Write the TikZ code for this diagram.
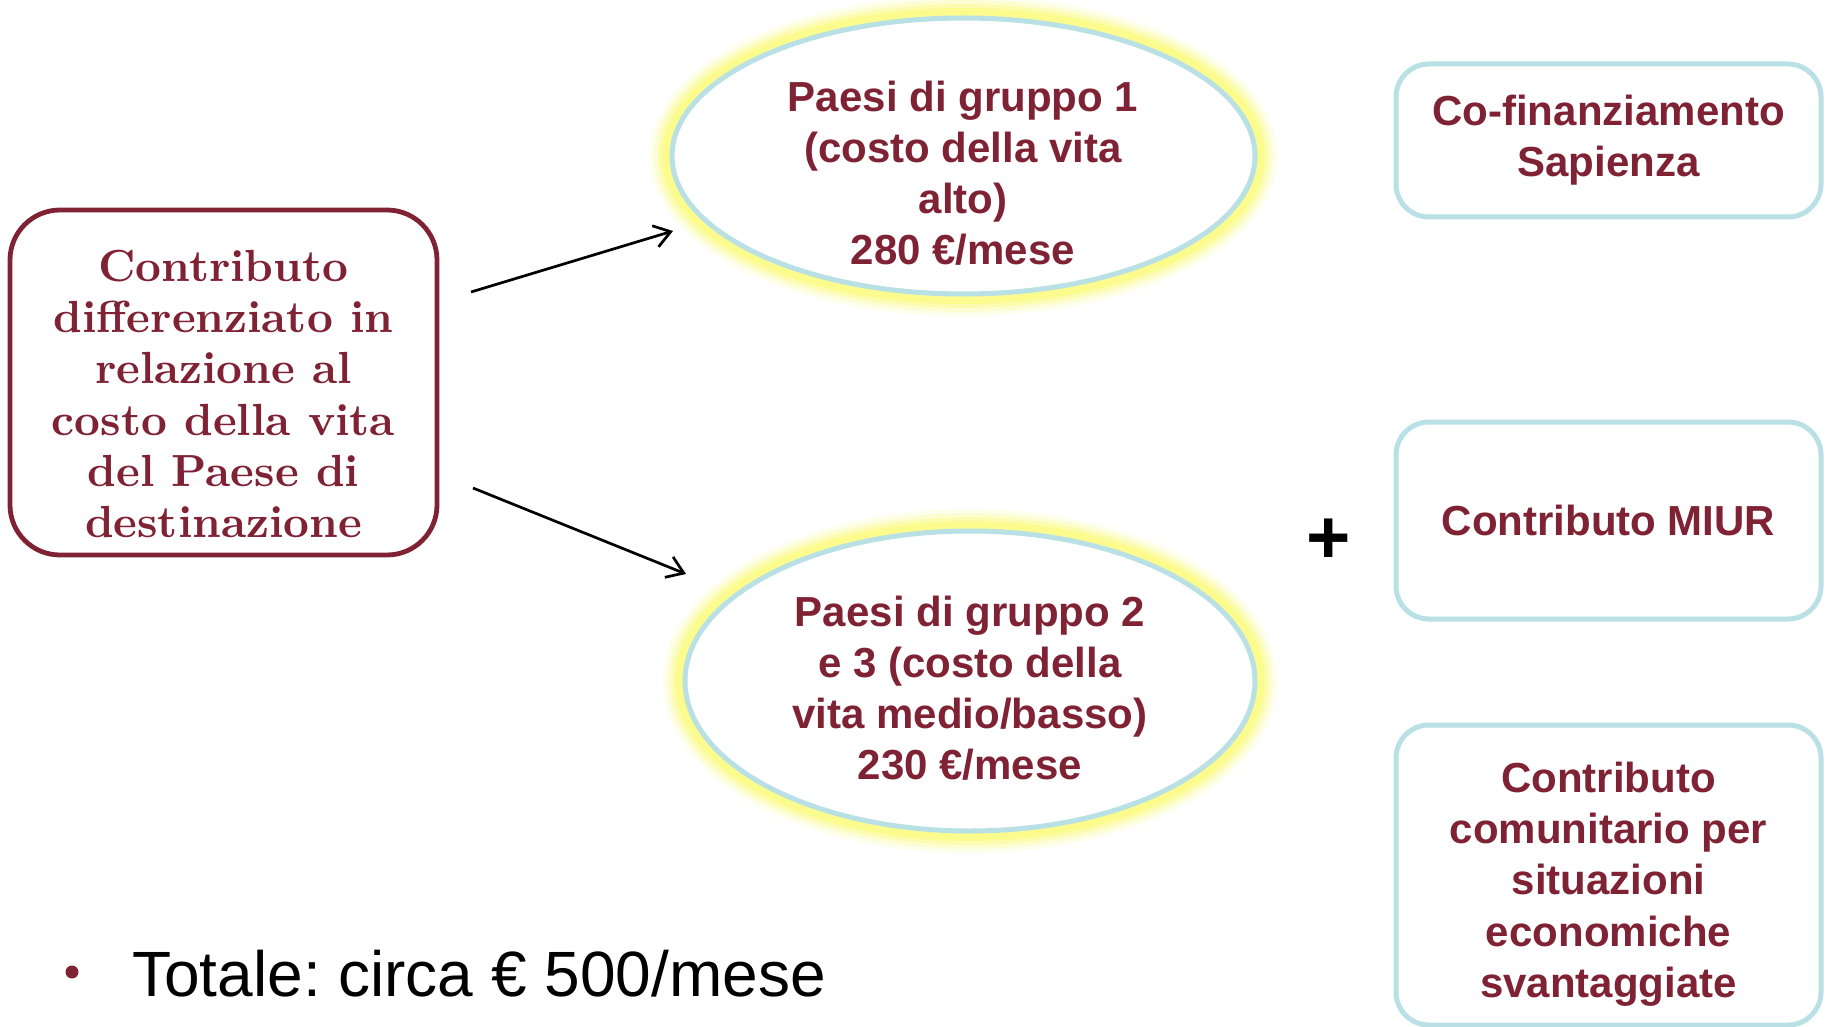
\documentclass[tikz,border=0pt]{standalone}
\usepackage{fontspec}
\usetikzlibrary{shapes.geometric,arrows.meta}
\newfontfamily\arialf{Liberation Sans}
\newfontfamily\serifbf{lmroman10-bold.otf}
\definecolor{maroon}{RGB}{127,34,52}
\definecolor{lblue}{RGB}{185,224,228}
\definecolor{glowy}{RGB}{250,250,120}
\begin{document}
\frenchspacing
\begin{tikzpicture}[x=1pt,y=-1pt,
  lbox/.style={draw=maroon, line width=4.8pt, rounded corners=50pt, fill=white,
    minimum width=427pt, minimum height=345pt, inner sep=0pt},
  lboxtext/.style={text=maroon, align=center, inner sep=0pt,
    font=\serifbf\fontsize{45}{51.3}\selectfont},
  rbox/.style={draw=lblue, line width=5pt, rounded corners=33pt, fill=white,
    minimum width=425pt, inner sep=0pt, text=maroon, align=center,
    font=\arialf\bfseries\fontsize{42}{51}\selectfont},
  rboxtext/.style={text=maroon, align=center, inner sep=0pt,
    font=\arialf\bfseries\fontsize{42}{51.3}\selectfont},
  ell/.style={ellipse, draw=lblue, line width=5pt, fill=white, inner sep=0pt},
  elltext/.style={text=maroon, align=center, inner sep=0pt,
    font=\arialf\bfseries\fontsize{42}{51}\selectfont},
  conn/.style={-{Straight Barb[length=16pt,width=22pt]}, line width=2.7pt}
]
\useasboundingbox (0,0) rectangle (1829,1027);
\clip (0,0) rectangle (1829,1027);

% glow behind ellipses
\foreach \w/\o in {44/0.14, 36/0.22, 28/0.38, 20/0.6}{
  \draw[glowy, line width=\w pt, opacity=\o] (963.5,156) ellipse [x radius=291.5pt, y radius=138pt];
  \draw[glowy, line width=\w pt, opacity=\o] (970,681) ellipse [x radius=285pt, y radius=150pt];
}

\node[lbox] (lb) at (223.5,382.5) {};
\node[lboxtext] (lbt) at (223.5,394) {Contributo\\differenziato in\\relazione al\\costo della vita\\del Paese di\\destinazione};

\node[ell, minimum width=583pt, minimum height=276pt] (e1) at (963.5,156) {};
\node[elltext] (e1t) at (963,173) {Paesi di gruppo 1\\(costo della vita\\alto)\\280 €/mese};

\node[ell, minimum width=570pt, minimum height=300pt] (e2) at (970,681) {};
\node[elltext] (e2t) at (970,688) {Paesi di gruppo 2\\e 3 (costo della\\vita medio/basso)\\230 €/mese};

\node[rbox, minimum height=153pt] (ra) at (1608.5,140.5) {Co-finanziamento\\Sapienza};
\node[rbox, minimum height=197pt] (rb) at (1608.5,520.5) {Contributo MIUR};
\node[rbox, minimum height=300pt] (rc) at (1608.5,875) {};
\node[rboxtext] (rct) at (1608.5,884) {Contributo\\comunitario per\\situazioni\\economiche\\svantaggiate};

\node[font=\arialf\bfseries\fontsize{76}{76}\selectfont, inner sep=0pt] (plus) at (1328.5,541) {+};

\coordinate (a1s) at (471,292);
\coordinate (a1e) at (673,231);
\coordinate (a2s) at (473,488);
\coordinate (a2e) at (686,574);
\draw[conn] (a1s) -- (a1e);
\draw[conn] (a2s) -- (a2e);

\node[circle, fill=maroon, minimum size=13pt, inner sep=0pt] (bul) at (72,972) {};
\node[anchor=base west, inner sep=0pt, font=\arialf\fontsize{64}{64}\selectfont] (tot) at (132,996) {Totale: circa € 500/mese};
\end{tikzpicture}
\end{document}
